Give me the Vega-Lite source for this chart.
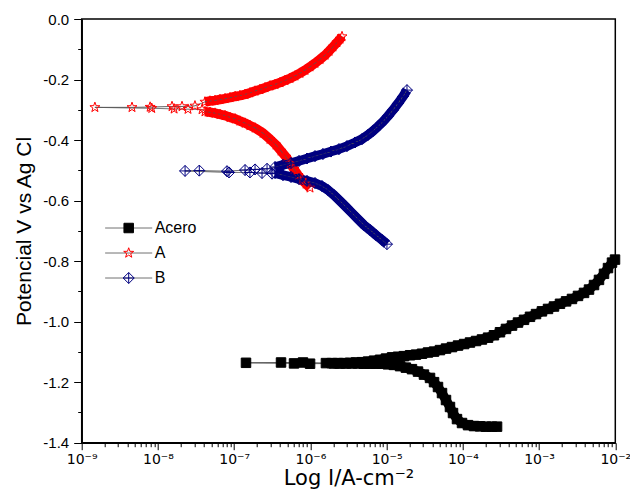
{
  "$schema": "https://vega.github.io/schema/vega-lite/v6.json",
  "width": 533.6,
  "height": 423.7,
  "autosize": "none",
  "padding": {"left": 81.7, "top": 19, "right": 14.7, "bottom": 58.3},
  "background": "white",
  "config": {
    "font": "Liberation Sans",
    "view": {"stroke": "#000", "strokeWidth": 1.5},
    "axis": {"grid": false, "domainColor": "#000", "domainWidth": 1.5, "tickColor": "#000", "tickWidth": 1, "labelColor": "#000", "titleColor": "#000", "labelFont": "Liberation Sans", "titleFont": "Liberation Sans", "titleFontWeight": "normal", "labelFlush": false, "labelOverlap": false}
  },
  "data": {"values": [
    {"s":"Acero","r":"c","i":2.81e-4,"e":-1.347},{"s":"Acero","r":"c","i":2.41e-4,"e":-1.347},{"s":"Acero","r":"c","i":2.01e-4,"e":-1.347},{"s":"Acero","r":"c","i":1.68e-4,"e":-1.346},{"s":"Acero","r":"c","i":1.40e-4,"e":-1.345},{"s":"Acero","r":"c","i":1.17e-4,"e":-1.342},{"s":"Acero","r":"c","i":9.75e-5,"e":-1.335},{"s":"Acero","r":"c","i":8.38e-5,"e":-1.322},{"s":"Acero","r":"c","i":7.43e-5,"e":-1.302},{"s":"Acero","r":"c","i":6.78e-5,"e":-1.282},{"s":"Acero","r":"c","i":6.01e-5,"e":-1.259},{"s":"Acero","r":"c","i":5.33e-5,"e":-1.236},{"s":"Acero","r":"c","i":4.72e-5,"e":-1.216},{"s":"Acero","r":"c","i":4.19e-5,"e":-1.2},{"s":"Acero","r":"c","i":3.71e-5,"e":-1.186},{"s":"Acero","r":"c","i":3.09e-5,"e":-1.175},{"s":"Acero","r":"c","i":2.58e-5,"e":-1.165},{"s":"Acero","r":"c","i":2.15e-5,"e":-1.157},{"s":"Acero","r":"c","i":1.79e-5,"e":-1.152},{"s":"Acero","r":"c","i":1.50e-5,"e":-1.147},{"s":"Acero","r":"c","i":1.25e-5,"e":-1.143},{"s":"Acero","r":"c","i":1.04e-5,"e":-1.141},{"s":"Acero","r":"c","i":8.69e-6,"e":-1.139},{"s":"Acero","r":"c","i":7.26e-6,"e":-1.139},{"s":"Acero","r":"c","i":6.05e-6,"e":-1.139},{"s":"Acero","r":"c","i":5.05e-6,"e":-1.139},{"s":"Acero","r":"c","i":4.21e-6,"e":-1.138},{"s":"Acero","r":"c","i":3.51e-6,"e":-1.138},{"s":"Acero","r":"c","i":2.93e-6,"e":-1.138},{"s":"Acero","r":"c","i":2.44e-6,"e":-1.138},{"s":"Acero","r":"c","i":2.04e-6,"e":-1.138},
    {"s":"Acero","r":"e","i":9.9e-7,"e":-1.139},{"s":"Acero","r":"e","i":6.1e-7,"e":-1.138},{"s":"Acero","r":"e","i":1.43e-7,"e":-1.136},{"s":"Acero","r":"e","i":4.12e-7,"e":-1.135},{"s":"Acero","r":"e","i":8.0e-7,"e":-1.135},
    {"s":"Acero","r":"a","i":1.60e-6,"e":-1.137},{"s":"Acero","r":"a","i":1.92e-6,"e":-1.137},{"s":"Acero","r":"a","i":2.30e-6,"e":-1.137},{"s":"Acero","r":"a","i":2.76e-6,"e":-1.137},{"s":"Acero","r":"a","i":3.31e-6,"e":-1.136},{"s":"Acero","r":"a","i":3.96e-6,"e":-1.135},{"s":"Acero","r":"a","i":4.75e-6,"e":-1.134},{"s":"Acero","r":"a","i":5.70e-6,"e":-1.132},{"s":"Acero","r":"a","i":6.83e-6,"e":-1.129},{"s":"Acero","r":"a","i":8.19e-6,"e":-1.126},{"s":"Acero","r":"a","i":9.81e-6,"e":-1.122},{"s":"Acero","r":"a","i":1.18e-5,"e":-1.118},{"s":"Acero","r":"a","i":1.41e-5,"e":-1.116},{"s":"Acero","r":"a","i":1.69e-5,"e":-1.114},{"s":"Acero","r":"a","i":2.03e-5,"e":-1.111},{"s":"Acero","r":"a","i":2.43e-5,"e":-1.109},{"s":"Acero","r":"a","i":2.91e-5,"e":-1.106},{"s":"Acero","r":"a","i":3.49e-5,"e":-1.102},{"s":"Acero","r":"a","i":4.19e-5,"e":-1.099},{"s":"Acero","r":"a","i":5.01e-5,"e":-1.094},{"s":"Acero","r":"a","i":6.01e-5,"e":-1.089},{"s":"Acero","r":"a","i":7.21e-5,"e":-1.084},{"s":"Acero","r":"a","i":8.64e-5,"e":-1.079},{"s":"Acero","r":"a","i":1.04e-4,"e":-1.074},{"s":"Acero","r":"a","i":1.24e-4,"e":-1.069},{"s":"Acero","r":"a","i":1.49e-4,"e":-1.064},{"s":"Acero","r":"a","i":1.78e-4,"e":-1.059},{"s":"Acero","r":"a","i":2.14e-4,"e":-1.053},{"s":"Acero","r":"a","i":2.56e-4,"e":-1.045},{"s":"Acero","r":"a","i":3.07e-4,"e":-1.035},{"s":"Acero","r":"a","i":3.68e-4,"e":-1.024},{"s":"Acero","r":"a","i":4.42e-4,"e":-1.013},{"s":"Acero","r":"a","i":5.29e-4,"e":-1.003},{"s":"Acero","r":"a","i":6.34e-4,"e":-0.994},{"s":"Acero","r":"a","i":7.60e-4,"e":-0.984},{"s":"Acero","r":"a","i":9.12e-4,"e":-0.975},{"s":"Acero","r":"a","i":1.09e-3,"e":-0.966},{"s":"Acero","r":"a","i":1.31e-3,"e":-0.958},{"s":"Acero","r":"a","i":1.57e-3,"e":-0.95},{"s":"Acero","r":"a","i":1.88e-3,"e":-0.941},{"s":"Acero","r":"a","i":2.26e-3,"e":-0.933},{"s":"Acero","r":"a","i":2.70e-3,"e":-0.925},{"s":"Acero","r":"a","i":3.24e-3,"e":-0.915},{"s":"Acero","r":"a","i":3.89e-3,"e":-0.905},{"s":"Acero","r":"a","i":4.52e-3,"e":-0.894},{"s":"Acero","r":"a","i":5.26e-3,"e":-0.879},{"s":"Acero","r":"a","i":6.11e-3,"e":-0.862},{"s":"Acero","r":"a","i":7.11e-3,"e":-0.842},{"s":"Acero","r":"a","i":8.02e-3,"e":-0.823},{"s":"Acero","r":"a","i":9.05e-3,"e":-0.805},{"s":"Acero","r":"a","i":9.91e-3,"e":-0.795},
    {"s":"A","r":"c","i":9.89e-7,"e":-0.558},{"s":"A","r":"c","i":8.77e-7,"e":-0.545},{"s":"A","r":"c","i":7.77e-7,"e":-0.532},{"s":"A","r":"c","i":6.89e-7,"e":-0.516},{"s":"A","r":"c","i":6.10e-7,"e":-0.496},{"s":"A","r":"c","i":5.41e-7,"e":-0.476},{"s":"A","r":"c","i":4.79e-7,"e":-0.456},{"s":"A","r":"c","i":4.12e-7,"e":-0.436},{"s":"A","r":"c","i":3.54e-7,"e":-0.416},{"s":"A","r":"c","i":2.95e-7,"e":-0.397},{"s":"A","r":"c","i":2.39e-7,"e":-0.377},{"s":"A","r":"c","i":1.88e-7,"e":-0.36},{"s":"A","r":"c","i":1.61e-7,"e":-0.352},{"s":"A","r":"c","i":1.39e-7,"e":-0.344},{"s":"A","r":"c","i":1.19e-7,"e":-0.337},{"s":"A","r":"c","i":1.03e-7,"e":-0.33},{"s":"A","r":"c","i":8.82e-8,"e":-0.325},{"s":"A","r":"c","i":7.59e-8,"e":-0.319},{"s":"A","r":"c","i":6.52e-8,"e":-0.315},{"s":"A","r":"c","i":5.61e-8,"e":-0.311},{"s":"A","r":"c","i":4.82e-8,"e":-0.308},{"s":"A","r":"c","i":4.14e-8,"e":-0.306},
    {"s":"A","r":"e","i":3.79e-8,"e":-0.299},{"s":"A","r":"e","i":2.48e-8,"e":-0.298},{"s":"A","r":"e","i":1.63e-8,"e":-0.297},{"s":"A","r":"e","i":8.3e-9,"e":-0.295},{"s":"A","r":"e","i":1.49e-9,"e":-0.292},{"s":"A","r":"e","i":4.57e-9,"e":-0.292},{"s":"A","r":"e","i":7.9e-9,"e":-0.291},{"s":"A","r":"e","i":1.53e-8,"e":-0.289},{"s":"A","r":"e","i":2.07e-8,"e":-0.289},{"s":"A","r":"e","i":3.06e-8,"e":-0.287},
    {"s":"A","r":"a","i":4.14e-8,"e":-0.274},{"s":"A","r":"a","i":4.82e-8,"e":-0.271},{"s":"A","r":"a","i":5.61e-8,"e":-0.269},{"s":"A","r":"a","i":6.52e-8,"e":-0.266},{"s":"A","r":"a","i":7.59e-8,"e":-0.263},{"s":"A","r":"a","i":8.82e-8,"e":-0.26},{"s":"A","r":"a","i":1.03e-7,"e":-0.256},{"s":"A","r":"a","i":1.19e-7,"e":-0.253},{"s":"A","r":"a","i":1.39e-7,"e":-0.249},{"s":"A","r":"a","i":1.61e-7,"e":-0.244},{"s":"A","r":"a","i":1.88e-7,"e":-0.238},{"s":"A","r":"a","i":2.18e-7,"e":-0.233},{"s":"A","r":"a","i":2.54e-7,"e":-0.227},{"s":"A","r":"a","i":2.95e-7,"e":-0.221},{"s":"A","r":"a","i":3.44e-7,"e":-0.216},{"s":"A","r":"a","i":4.00e-7,"e":-0.21},{"s":"A","r":"a","i":4.65e-7,"e":-0.203},{"s":"A","r":"a","i":5.41e-7,"e":-0.196},{"s":"A","r":"a","i":6.29e-7,"e":-0.188},{"s":"A","r":"a","i":7.31e-7,"e":-0.179},{"s":"A","r":"a","i":8.51e-7,"e":-0.169},{"s":"A","r":"a","i":9.89e-7,"e":-0.158},{"s":"A","r":"a","i":1.15e-6,"e":-0.146},{"s":"A","r":"a","i":1.34e-6,"e":-0.133},{"s":"A","r":"a","i":1.56e-6,"e":-0.119},{"s":"A","r":"a","i":1.76e-6,"e":-0.106},{"s":"A","r":"a","i":1.98e-6,"e":-0.092},{"s":"A","r":"a","i":2.23e-6,"e":-0.078},{"s":"A","r":"a","i":2.45e-6,"e":-0.066},{"s":"A","r":"a","i":2.60e-6,"e":-0.058},
    {"s":"B","r":"c","i":1.01e-5,"e":-0.744},{"s":"B","r":"c","i":8.69e-6,"e":-0.73},{"s":"B","r":"c","i":7.26e-6,"e":-0.714},{"s":"B","r":"c","i":6.05e-6,"e":-0.697},{"s":"B","r":"c","i":5.05e-6,"e":-0.681},{"s":"B","r":"c","i":4.21e-6,"e":-0.661},{"s":"B","r":"c","i":3.51e-6,"e":-0.641},{"s":"B","r":"c","i":2.93e-6,"e":-0.621},{"s":"B","r":"c","i":2.44e-6,"e":-0.601},{"s":"B","r":"c","i":2.04e-6,"e":-0.582},{"s":"B","r":"c","i":1.70e-6,"e":-0.565},{"s":"B","r":"c","i":1.42e-6,"e":-0.552},{"s":"B","r":"c","i":1.15e-6,"e":-0.542},{"s":"B","r":"c","i":9.03e-7,"e":-0.535},{"s":"B","r":"c","i":7.09e-7,"e":-0.529},{"s":"B","r":"c","i":5.57e-7,"e":-0.522},{"s":"B","r":"c","i":4.37e-7,"e":-0.516},{"s":"B","r":"c","i":3.44e-7,"e":-0.509},
    {"s":"B","r":"e","i":3.14e-7,"e":-0.511},{"s":"B","r":"e","i":2.32e-7,"e":-0.509},{"s":"B","r":"e","i":1.61e-7,"e":-0.507},{"s":"B","r":"e","i":8.56e-8,"e":-0.507},{"s":"B","r":"e","i":2.27e-8,"e":-0.502},{"s":"B","r":"e","i":3.49e-8,"e":-0.501},{"s":"B","r":"e","i":8.05e-8,"e":-0.503},{"s":"B","r":"e","i":1.39e-7,"e":-0.499},{"s":"B","r":"e","i":1.88e-7,"e":-0.497},{"s":"B","r":"e","i":2.70e-7,"e":-0.495},
    {"s":"B","r":"a","i":3.44e-7,"e":-0.489},{"s":"B","r":"a","i":4.37e-7,"e":-0.482},{"s":"B","r":"a","i":5.57e-7,"e":-0.476},{"s":"B","r":"a","i":7.09e-7,"e":-0.469},{"s":"B","r":"a","i":9.03e-7,"e":-0.461},{"s":"B","r":"a","i":1.15e-6,"e":-0.453},{"s":"B","r":"a","i":1.46e-6,"e":-0.446},{"s":"B","r":"a","i":1.86e-6,"e":-0.438},{"s":"B","r":"a","i":2.37e-6,"e":-0.43},{"s":"B","r":"a","i":3.02e-6,"e":-0.42},{"s":"B","r":"a","i":3.85e-6,"e":-0.408},{"s":"B","r":"a","i":4.75e-6,"e":-0.397},{"s":"B","r":"a","i":5.70e-6,"e":-0.383},{"s":"B","r":"a","i":6.63e-6,"e":-0.37},{"s":"B","r":"a","i":7.71e-6,"e":-0.355},{"s":"B","r":"a","i":8.97e-6,"e":-0.339},{"s":"B","r":"a","i":1.04e-5,"e":-0.321},{"s":"B","r":"a","i":1.21e-5,"e":-0.301},{"s":"B","r":"a","i":1.41e-5,"e":-0.279},{"s":"B","r":"a","i":1.64e-5,"e":-0.256},{"s":"B","r":"a","i":1.85e-5,"e":-0.235}
  ]},
  "encoding": {
    "x": {"field": "i", "type": "quantitative",
      "scale": {"type": "log", "domain": [1e-9, 1e-2], "nice": false},
      "axis": {
        "title": "Log I/A-cm⁻²", "titleFontSize": 21, "titlePadding": 1, "titleFont": "DejaVu Sans",
        "values": [1e-9,2e-9,3e-9,4e-9,5e-9,6e-9,7e-9,8e-9,9e-9,1e-8,2e-8,3e-8,4e-8,5e-8,6e-8,7e-8,8e-8,9e-8,1e-7,2e-7,3e-7,4e-7,5e-7,6e-7,7e-7,8e-7,9e-7,1e-6,2e-6,3e-6,4e-6,5e-6,6e-6,7e-6,8e-6,9e-6,1e-5,2e-5,3e-5,4e-5,5e-5,6e-5,7e-5,8e-5,9e-5,1e-4,2e-4,3e-4,4e-4,5e-4,6e-4,7e-4,8e-4,9e-4,1e-3,2e-3,3e-3,4e-3,5e-3,6e-3,7e-3,8e-3,9e-3,1e-2],
        "labelExpr": "abs(log(datum.value)/LN10 - round(log(datum.value)/LN10)) < 0.001 ? '10⁻' + ['⁰','¹','²','³','⁴','⁵','⁶','⁷','⁸','⁹'][abs(round(log(datum.value)/LN10))] : ''",
        "labelFont": "DejaVu Sans", "labelFontSize": 14, "labelPadding": 3,
        "tickSize": {"condition": {"test": "abs(log(datum.value)/LN10 - round(log(datum.value)/LN10)) < 0.001", "value": 7}, "value": 4}
      }
    },
    "y": {"field": "e", "type": "quantitative",
      "scale": {"domain": [-1.4, 0], "nice": false, "zero": false},
      "axis": {
        "title": "Potencial V vs Ag Cl", "titleFontSize": 21, "titlePadding": 8,
        "values": [-1.4,-1.3,-1.2,-1.1,-1.0,-0.9,-0.8,-0.7,-0.6,-0.5,-0.4,-0.3,-0.2,-0.1,0],
        "labelExpr": "abs(round(datum.value*10)) % 2 == 1 ? '' : (datum.value < -0.001 ? '-' : '') + format(abs(datum.value), '.1f')",
        "labelFontSize": 15, "labelPadding": 5,
        "tickSize": {"condition": {"test": "abs(round(datum.value*10)) % 2 == 0", "value": 8}, "value": 4}
      }
    }
  },
  "layer": [
    {
      "transform": [{"filter": "datum.r !== 'e' && datum.s === 'Acero'"}],
      "mark": {"type": "line", "color": "#000000", "strokeWidth": 9.5, "strokeCap": "butt", "strokeJoin": "round"},
      "encoding": {"detail": {"field": "r"}, "order": {"value": null}}
    },
    {
      "transform": [{"filter": "datum.r !== 'e' && datum.s === 'A'"}],
      "mark": {"type": "line", "color": "#ff0000", "strokeWidth": 9.5, "strokeCap": "butt", "strokeJoin": "round"},
      "encoding": {"detail": {"field": "r"}, "order": {"value": null}}
    },
    {
      "transform": [{"filter": "datum.r !== 'e' && datum.s === 'B'"}],
      "mark": {"type": "line", "color": "#000080", "strokeWidth": 9.5, "strokeCap": "butt", "strokeJoin": "round"},
      "encoding": {"detail": {"field": "r"}, "order": {"value": null}}
    },
    {
      "mark": {"type": "line", "color": "#555555", "strokeWidth": 1},
      "encoding": {
        "strokeDash": {"field": "s", "type": "nominal",
          "scale": {"range": [[1, 0], [1, 0], [1, 0]]},
          "legend": {
            "title": null, "orient": "none", "legendX": 39, "legendY": 201, "padding": 0,
            "symbolType": "M-4.7,0H4.7", "symbolSize": 100, "symbolStrokeColor": "#666666", "symbolStrokeWidth": 1, "symbolFillColor": "transparent",
            "labelExpr": "''", "labelFontSize": 16, "labelOffset": 18, "rowPadding": 9
          }
        },
        "order": {"value": null}
      }
    },
    {
      "mark": {"type": "point", "filled": true, "opacity": 1, "strokeWidth": 1, "size": 100},
      "encoding": {
        "shape": {"field": "s", "type": "nominal",
          "scale": {"domain": ["Acero", "A", "B"], "range": ["M-0.95,-0.95H0.95V0.95H-0.95Z", "M0,-1.05L0.247,-0.34L0.999,-0.324L0.399,0.13L0.617,0.849L0,0.42L-0.617,0.849L-0.399,0.13L-0.999,-0.324L-0.247,-0.34Z", "M0,-1.1L1.1,0L0,1.1L-1.1,0ZM0,-1.1V1.1M-1.1,0H1.1"]},
          "legend": {
            "title": null, "orient": "none", "legendX": 39, "legendY": 201, "padding": 0,
            "symbolSize": 100, "labelFontSize": 16, "labelFont": "Liberation Sans", "labelColor": "#000",
            "labelOffset": 18, "rowPadding": 9, "symbolStrokeWidth": 1
          }
        },
        "fill": {"field": "s", "type": "nominal", "scale": {"domain": ["Acero", "A", "B"], "range": ["#000000", "transparent", "transparent"]}, "legend": null},
        "stroke": {"field": "s", "type": "nominal", "scale": {"domain": ["Acero", "A", "B"], "range": ["#000000", "#ff0000", "#000080"]}, "legend": null}
      }
    }
  ]
}
